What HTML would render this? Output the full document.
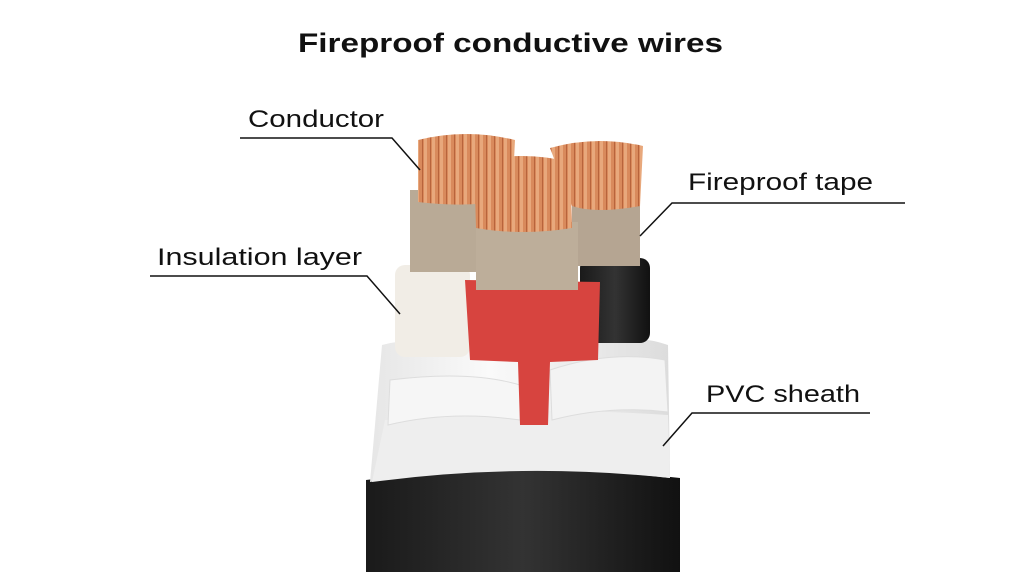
<!DOCTYPE html>
<html><head><meta charset="utf-8"><style>
html,body{margin:0;padding:0;background:#fff;}
svg{display:block;}
text{font-family:"Liberation Sans",sans-serif;fill:#111;}
</style></head><body>
<svg width="1022" height="572" viewBox="0 0 1022 572" xmlns="http://www.w3.org/2000/svg">
<defs>
<pattern id="cu" width="8" height="10" patternUnits="userSpaceOnUse">
<rect width="8" height="10" fill="#d98a5c"/><rect x="0" width="3" height="10" fill="#e8a87c"/><rect x="6" width="1" height="10" fill="#b8643c"/>
</pattern>
<linearGradient id="blk" x1="0" x2="1"><stop offset="0" stop-color="#1a1a1a"/><stop offset="0.5" stop-color="#333"/><stop offset="1" stop-color="#111"/></linearGradient>
<linearGradient id="wht" x1="0" x2="1"><stop offset="0" stop-color="#e6e6e6"/><stop offset="0.4" stop-color="#fafafa"/><stop offset="1" stop-color="#dcdcdc"/></linearGradient>
</defs>
<rect width="1022" height="572" fill="#fff"/>
<text x="298" y="52" font-size="27" font-weight="bold" textLength="425" lengthAdjust="spacingAndGlyphs">Fireproof conductive wires</text>

<path d="M366 480 Q520 460 680 478 L680 572 L366 572 Z" fill="url(#blk)"/>
<path d="M382 345 Q420 335 470 345 L600 340 Q640 335 668 345 L670 478 Q520 460 370 482 Z" fill="url(#wht)"/>
<path d="M385 420 Q520 405 668 415 L670 478 Q520 462 372 482 Z" fill="#eeeeee"/>
<path d="M390 380 Q470 370 520 385 L520 420 Q450 410 388 425 Z" fill="#f6f6f6" stroke="#ddd"/>
<path d="M550 370 Q610 350 665 360 L668 412 Q610 405 552 420 Z" fill="#f3f3f3" stroke="#ddd"/>

<rect x="580" y="258" width="70" height="85" rx="10" fill="url(#blk)"/>
<rect x="572" y="200" width="68" height="66" fill="#b5a592"/>
<path d="M550 148 Q596 135 643 146 L640 206 Q596 214 572 206 Z" fill="url(#cu)"/>

<rect x="395" y="265" width="75" height="92" rx="10" fill="#f1ede6"/>
<rect x="410" y="190" width="66" height="82" fill="#b9aa96"/>
<path d="M418 140 Q466 128 515 140 L512 200 Q466 208 418 202 Z" fill="url(#cu)"/>

<path d="M465 280 L600 282 L598 360 L550 362 L548 425 L520 425 L518 362 L470 360 Z" fill="#d7443f"/>
<rect x="476" y="222" width="102" height="68" fill="#bdae9a"/>
<path d="M474 162 Q522 150 570 162 L572 228 Q522 236 476 228 Z" fill="url(#cu)"/>

<g stroke="#111" stroke-width="1.5" fill="none">
<polyline points="240,138 392,138 420,170"/>
<polyline points="150,276 367,276 400,314"/>
<polyline points="905,203 672,203 640,236"/>
<polyline points="870,413 692,413 663,446"/>
</g>
<text x="248" y="127" font-size="24" textLength="136" lengthAdjust="spacingAndGlyphs">Conductor</text>
<text x="157" y="265" font-size="24" textLength="205" lengthAdjust="spacingAndGlyphs">Insulation layer</text>
<text x="688" y="190" font-size="24" textLength="185" lengthAdjust="spacingAndGlyphs">Fireproof tape</text>
<text x="706" y="402" font-size="24" textLength="154" lengthAdjust="spacingAndGlyphs">PVC sheath</text>
</svg>
</body></html>
